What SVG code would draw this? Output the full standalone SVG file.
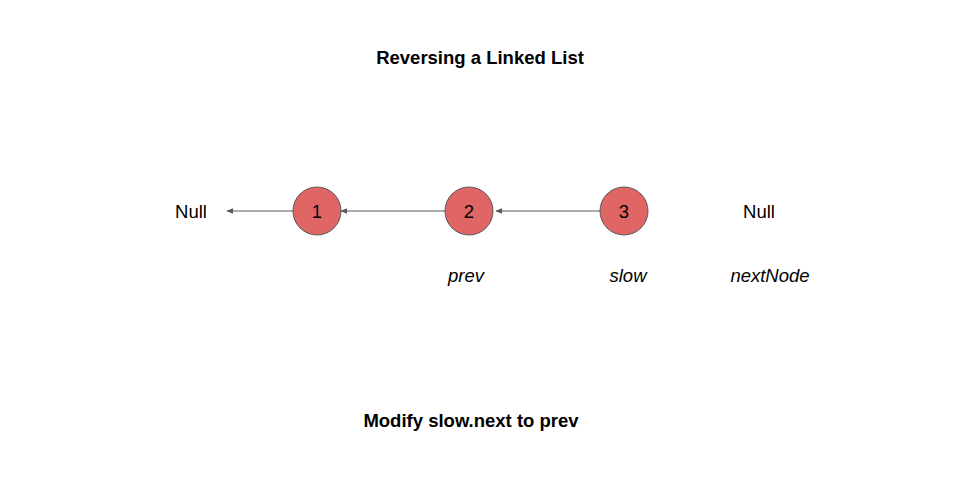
<svg xmlns="http://www.w3.org/2000/svg" width="960" height="480" viewBox="0 0 960 480">
<style>
text{font-family:"Liberation Sans",Arial,sans-serif;font-size:18.5px;fill:#000;text-anchor:middle;dominant-baseline:central}
.b{font-weight:bold}
.i{font-style:italic}
.node circle{fill:#e06666;stroke:#595959;stroke-width:1}
.edge{stroke:#595959;stroke-width:1;fill:none;marker-end:url(#ah)}
</style>
<defs>
<marker id="ah" viewBox="0 0 10 10" refX="9" refY="5" markerWidth="7" markerHeight="7" orient="auto" markerUnits="userSpaceOnUse">
<path d="M0,1 L10,5 L0,9 Z" fill="#595959"/>
</marker>
</defs>
<rect width="960" height="480" fill="#fff"/>
<text class="b" x="480" y="57">Reversing a Linked List</text>
<g id="connectors">
<line class="edge" x1="293" y1="211" x2="227" y2="211"/>
<line class="edge" x1="445" y1="211" x2="341" y2="211"/>
<line class="edge" x1="600" y1="211" x2="496" y2="211"/>
</g>
<g id="null1"><text x="191" y="211">Null</text></g>
<g id="n1" class="node"><circle cx="317" cy="211" r="24"/><text x="317" y="211">1</text></g>
<g id="n2" class="node"><circle cx="469" cy="211" r="24"/><text x="469" y="211">2</text></g>
<g id="n3" class="node"><circle cx="624" cy="211" r="24"/><text x="624" y="211">3</text></g>
<g id="null2"><text x="759" y="211">Null</text></g>
<text class="i" x="466" y="275">prev</text>
<text class="i" x="628" y="275">slow</text>
<text class="i" x="770" y="275">nextNode</text>
<text class="b" x="471" y="420">Modify slow.next to prev</text>
</svg>
